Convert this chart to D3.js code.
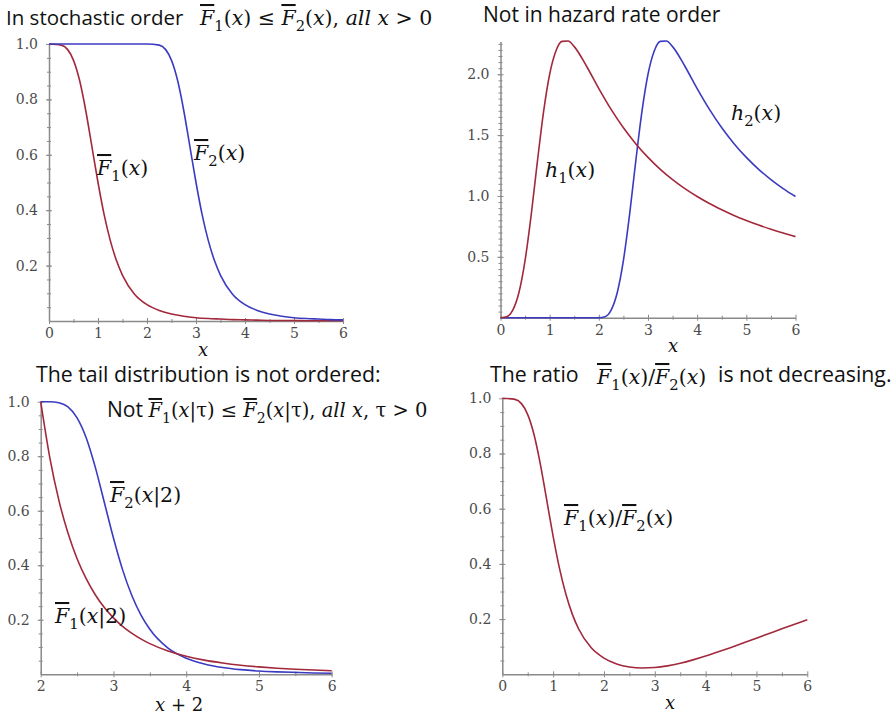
<!DOCTYPE html>
<html>
<head>
<meta charset="utf-8">
<script src="https://cdn.jsdelivr.net/npm/d3@7"></script>
<style>
  body { margin: 0; background: #fff; }
</style>
</head>
<body>
<div id="chart"></div>
<script>
width = 896;
height = 715;

var red = "#a2283c";
var blue = "#3b3bc2";
var titleFont = "'Open Sans', Lato, sans-serif";
var mathFont = "'DejaVu Serif', serif";
var tickFont = "'DejaVu Serif', serif";

// panel 1 : survival functions
var f1X = [0,0.25,0.5,0.625,0.75,0.875,1,1.125,1.25,1.375,1.5,1.75,2,2.25,2.5,2.75,3,3.25,3.5,3.75,4,4.25,4.5,4.75,5,5.25,5.5,5.75,6];
var f1Y = [1,0.996,0.941,0.868,0.760,0.630,0.5,0.384,0.291,0.219,0.165,0.096,0.059,0.038,0.025,0.017,0.012,0.009,0.007,0.005,0.004,0.003,0.002,0.002,0.002,0.001,0.001,0.001,0.001];
var f2X = [0,2,2.25,2.5,2.625,2.75,2.875,3,3.125,3.25,3.375,3.5,3.75,4,4.25,4.5,4.75,5,5.25,5.5,5.75,6];
var f2Y = [1,1,0.996,0.941,0.868,0.760,0.630,0.5,0.384,0.291,0.219,0.165,0.096,0.059,0.038,0.025,0.017,0.012,0.009,0.007,0.005,0.004];

// panel 2 : hazard rates
var h1X = [0,0.125,0.25,0.375,0.5,0.625,0.75,0.875,1,1.125,1.25,1.375,1.5,1.75,2,2.25,2.5,2.75,3,3.25,3.5,3.75,4,4.25,4.5,4.75,5,5.25,5.5,5.75,6];
var h1Y = [0,0.008,0.062,0.207,0.471,0.847,1.282,1.689,2.0,2.189,2.270,2.273,2.227,2.066,1.882,1.711,1.560,1.430,1.317,1.219,1.135,1.061,0.996,0.938,0.887,0.840,0.799,0.761,0.727,0.695,0.666];
var h2X = [0,2,2.125,2.25,2.375,2.5,2.625,2.75,2.875,3,3.125,3.25,3.375,3.5,3.75,4,4.25,4.5,4.75,5,5.25,5.5,5.75,6];
var h2Y = [0,0,0.008,0.062,0.207,0.471,0.847,1.282,1.689,2.0,2.189,2.270,2.273,2.227,2.066,1.882,1.711,1.560,1.430,1.317,1.219,1.135,1.061,0.996];

// panel 3 : conditional tails, x + 2
var tX = [2,2.125,2.25,2.375,2.5,2.625,2.75,2.875,3,3.125,3.25,3.375,3.5,3.75,4,4.25,4.5,4.75,5,5.25,5.5,5.75,6];
var t1Y = [1.0,0.795,0.638,0.518,0.424,0.351,0.292,0.245,0.207,0.176,0.151,0.130,0.1125,0.0855,0.0661,0.0519,0.0414,0.0333,0.0272,0.0223,0.0186,0.0155,0.0131];
var t2Y = [1.0,1.0,0.996,0.981,0.941,0.868,0.760,0.630,0.5,0.384,0.291,0.219,0.165,0.096,0.059,0.038,0.025,0.017,0.012,0.009,0.007,0.005,0.004];

// panel 4 : ratio
var rX = [0,0.25,0.5,0.625,0.75,0.875,1,1.125,1.25,1.375,1.5,1.75,2,2.25,2.5,2.75,3,3.25,3.5,3.75,4,4.25,4.5,4.75,5,5.25,5.5,5.75,6];
var rY = [1,0.996,0.941,0.868,0.760,0.630,0.5,0.384,0.291,0.219,0.165,0.096,0.0588,0.0377,0.0265,0.0226,0.0244,0.0306,0.0401,0.0522,0.0661,0.0814,0.0975,0.1141,0.131,0.148,0.165,0.1817,0.198];

// tick labels
var xTicks06 = [0,1,2,3,4,5,6];
var xTicks26 = [2,3,4,5,6];
var yTicksF = [0.2,0.4,0.6,0.8,1.0];
var yTicksH = [0.5,1.0,1.5,2.0];

var svg = d3.select("#chart")
    .append("svg")
    .attr("width", width)
    .attr("height", height);

// writes a math label out of parts: [text, flags] ; i = italic, b = overbar, s = subscript, f = text font
function mathText(g, x, y, parts, size) {
    var t = g.append("text")
        .attr("x", x)
        .attr("y", y)
        .style("font-family", mathFont)
        .style("font-size", size + "px")
        .attr("fill", "#111");
    var shifted = 0;
    parts.forEach(function(p) {
        var s = t.append("tspan").text(p[0]);
        var f = p[1] || "";
        if (f.indexOf("i") >= 0) s.style("font-style", "italic");
        if (f.indexOf("b") >= 0) s.style("text-decoration", "overline");
        if (f.indexOf("f") >= 0) s.style("font-family", titleFont).style("font-size", (size * 1.08) + "px");
        var want = f.indexOf("s") >= 0 ? size * 0.3 : 0;
        if (want != shifted) { s.attr("dy", want - shifted); shifted = want; }
        if (f.indexOf("s") >= 0) s.style("font-size", (size * 0.72) + "px");
    });
    return t;
}

function title(g, x, y, txt, size) {
    return g.append("text").attr("x", x).attr("y", y)
        .style("font-family", titleFont).style("font-size", (size || 21.5) + "px")
        .attr("fill", "#111")
        .text(txt);
}

function drawPanel(cfg) {
    var x = d3.scaleLinear().domain(cfg.xDomain).range(cfg.xRange);
    var y = d3.scaleLinear().domain(cfg.yDomain).range(cfg.yRange);
    var g = svg.append("g");

    // minor ticks
    var xm = g.append("g")
        .attr("transform", "translate(0," + cfg.yRange[0] + ")")
        .call(d3.axisBottom(x).tickValues(cfg.xMinor).tickSize(2).tickFormat(""));
    var ym = g.append("g")
        .attr("transform", "translate(" + cfg.xRange[0] + ",0)")
        .call(d3.axisLeft(y).tickValues(cfg.yMinor).tickSize(2).tickFormat(""));
    xm.select(".domain").remove();
    ym.select(".domain").remove();
    xm.selectAll(".tick line").attr("y1", -2);
    ym.selectAll(".tick line").attr("x1", 2);

    // major axes
    var xa = g.append("g")
        .attr("transform", "translate(0," + cfg.yRange[0] + ")")
        .call(d3.axisBottom(x).tickValues(cfg.xTicks).tickSize(3).tickSizeOuter(0).tickPadding(4).tickFormat(d3.format("d")));
    var ya = g.append("g")
        .attr("transform", "translate(" + cfg.xRange[0] + ",0)")
        .call(d3.axisLeft(y).tickValues(cfg.yTicks).tickSize(3).tickSizeOuter(0).tickPadding(8).tickFormat(d3.format(".1f")));
    xa.selectAll(".tick line").attr("y1", -3);
    ya.selectAll(".tick line").attr("x1", 3);

    g.selectAll(".domain").style("stroke", "#8a8a8a").style("stroke-width", 1.5);
    g.selectAll(".tick line").style("stroke", "#8a8a8a");
    g.selectAll(".tick text")
        .style("font-family", tickFont)
        .style("font-size", "14px")
        .attr("fill", "#4a4a4a");

    var line = d3.line()
        .x(d => x(d[0]))
        .y(d => y(d[1]))
        .curve(d3.curveMonotoneX);

    cfg.series.forEach(function(s) {
        g.append("path")
            .datum(d3.zip(s.xs, s.ys))
            .attr("d", line)
            .attr("fill", "none")
            .attr("stroke", s.color)
            .attr("stroke-width", 1.6);
    });
    return g;
}

// ---- panel 1
var p1 = drawPanel({
    xDomain: [0, 6], xRange: [49, 343],
    yDomain: [0, 1], yRange: [321, 44],
    xTicks: xTicks06, yTicks: yTicksF,
    xMinor: d3.range(0.5, 6, 1), yMinor: d3.range(0.05, 1, 0.05),
    series: [{xs: f1X, ys: f1Y, color: red}, {xs: f2X, ys: f2Y, color: blue}]
});
title(p1, 6, 25, "In stochastic order", 20.5);
mathText(p1, 200, 25, [["F","ib"],["1","s"],["(",""],["x","i"],[") ≤ ",""],["F","ib"],["2","s"],["(",""],["x","i"],["), ",""],["all x","i"],[" > 0",""]], 20.5);
mathText(p1, 97, 175, [["F","ib"],["1","s"],["(",""],["x","i"],[")",""]], 20.5);
mathText(p1, 194, 160, [["F","ib"],["2","s"],["(",""],["x","i"],[")",""]], 20.5);
mathText(p1, 198, 356, [["x","i"]], 18);

// ---- panel 2
var p2 = drawPanel({
    xDomain: [0, 6], xRange: [500.5, 795.5],
    yDomain: [0, 2.27], yRange: [317.7, 41.4],
    xTicks: xTicks06, yTicks: yTicksH,
    xMinor: d3.range(0.5, 6, 1), yMinor: d3.range(0.05, 2.26, 0.05),
    series: [{xs: h2X, ys: h2Y, color: blue}, {xs: h1X, ys: h1Y, color: red}]
});
title(p2, 483, 22, "Not in hazard rate order", 21);
mathText(p2, 545, 177, [["h","i"],["1","s"],["(",""],["x","i"],[")",""]], 20.5);
mathText(p2, 731, 120, [["h","i"],["2","s"],["(",""],["x","i"],[")",""]], 20.5);
mathText(p2, 668, 352, [["x","i"]], 18);

// ---- panel 3
var p3 = drawPanel({
    xDomain: [2, 6], xRange: [40.7, 331.7],
    yDomain: [0, 1], yRange: [674.3, 401.7],
    xTicks: xTicks26, yTicks: yTicksF,
    xMinor: d3.range(2.5, 6, 1), yMinor: d3.range(0.05, 1, 0.05),
    series: [{xs: tX, ys: t2Y, color: blue}, {xs: tX, ys: t1Y, color: red}]
});
title(p3, 36, 382, "The tail distribution is not ordered:", 21.3);
mathText(p3, 107, 417, [["Not ","f"],["F","ib"],["1","s"],["(",""],["x","i"],["|τ) ≤ ",""],["F","ib"],["2","s"],["(",""],["x","i"],["|τ), ",""],["all x","i"],[", τ > 0",""]], 19.5);
mathText(p3, 110, 502, [["F","ib"],["2","s"],["(",""],["x","i"],["|2)",""]], 20.5);
mathText(p3, 55, 623, [["F","ib"],["1","s"],["(",""],["x","i"],["|2)",""]], 20.5);
mathText(p3, 155, 711, [["x","i"],[" + 2",""]], 18);

// ---- panel 4
var p4 = drawPanel({
    xDomain: [0, 6], xRange: [502.3, 807.3],
    yDomain: [0, 1], yRange: [674.3, 398.3],
    xTicks: xTicks06, yTicks: yTicksF,
    xMinor: d3.range(0.5, 6, 1), yMinor: d3.range(0.05, 1, 0.05),
    series: [{xs: rX, ys: rY, color: red}]
});
title(p4, 490, 382, "The ratio", 21.3);
mathText(p4, 597, 384, [["F","ib"],["1","s"],["(",""],["x","i"],[")/",""],["F","ib"],["2","s"],["(",""],["x","i"],[")",""]], 20.5);
title(p4, 718, 382, "is not decreasing.", 21.3);
mathText(p4, 564, 525, [["F","ib"],["1","s"],["(",""],["x","i"],[")/",""],["F","ib"],["2","s"],["(",""],["x","i"],[")",""]], 20.5);
mathText(p4, 665, 709, [["x","i"]], 18);
</script>
</body>
</html>
